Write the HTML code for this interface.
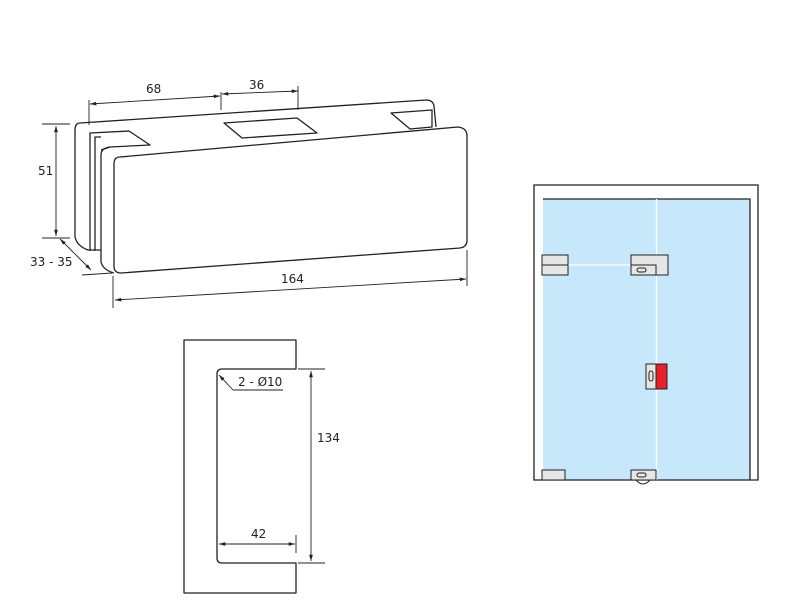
<!DOCTYPE html>
<html><head><style>body{margin:0;background:#fff}svg{display:block}text{font-family:"DejaVu Sans","Liberation Sans",sans-serif;font-size:12px;fill:#222}</style></head><body>
<svg width="806" height="614" viewBox="0 0 806 614" xmlns="http://www.w3.org/2000/svg">
<defs><marker id="a" viewBox="0 0 10 10" refX="10" refY="5" markerWidth="7" markerHeight="7" orient="auto-start-reverse"><path d="M0,2 L10,5 L0,8z" fill="#222"/></marker></defs>
<g fill="none" stroke="#222" stroke-width="1.3" stroke-linejoin="round">
<!-- back plate -->
<path d="M80,123 L426,100 Q433,100 434,106 L436,127"/>
<path d="M80,123 Q75,123 75,130 L75,237 Q77,246 88,250 L101,250"/>
<!-- channel -->
<path d="M90,251 L90,133 L129,131 L150,145 L110,147 L101,150"/>
<path d="M95,251 L95,137 L101,137"/>
<path d="M391,113 L432,110 L432,127 L410,129 Z"/>
<path d="M224,123 L297,118 L317,133 L242,138 Z"/>
<!-- middle plate -->
<path d="M101,262 L101,155 Q101,148 110,147"/>
<path d="M101,262 Q103,270 114,273"/>
<!-- front plate -->
<path d="M120,157 L458,127 Q467,128 467,136 L467,240 Q467,247 460,248 L121,273 Q114,273 114,266 L114,164 Q114,157 120,157 Z"/>
<!-- dimensions -->
<g stroke-width="0.9">
<path d="M89,100 L89,125 M221,92 L221,110 M298,86 L298,110"/>
<line x1="90" y1="104" x2="220" y2="96" marker-start="url(#a)" marker-end="url(#a)"/>
<line x1="222" y1="94" x2="298" y2="91" marker-start="url(#a)" marker-end="url(#a)"/>
<path d="M42,124 L70,124 M42,238 L70,238"/>
<line x1="56" y1="126" x2="56" y2="236" marker-start="url(#a)" marker-end="url(#a)"/>
<line x1="60" y1="239" x2="91" y2="270" marker-start="url(#a)" marker-end="url(#a)"/>
<path d="M82,275 L112,273"/>
<path d="M113,276 L113,308 M467,250 L467,286"/>
<line x1="115" y1="300" x2="466" y2="279" marker-start="url(#a)" marker-end="url(#a)"/>
</g>
<!-- handle -->
<path d="M296,369 L296,340 L184,340 L184,593 L296,593 L296,563 L222,563 Q217,563 217,558 L217,374 Q217,369 222,369 Z"/>
<g stroke-width="0.9">
<path d="M298,369 L325,369 M298,563 L325,563 M296,535 L296,553"/>
<line x1="311" y1="371" x2="311" y2="561" marker-start="url(#a)" marker-end="url(#a)"/>
<line x1="219" y1="544" x2="295" y2="544" marker-start="url(#a)" marker-end="url(#a)"/>
<path d="M233,390 L283,390"/>
<line x1="233" y1="390" x2="219" y2="375" marker-end="url(#a)"/>
</g>
</g>
<text x="146" y="93">68</text><text x="249" y="89">36</text>
<text x="38" y="175">51</text><text x="30" y="266">33 - 35</text>
<text x="281" y="283">164</text>
<text x="238" y="386">2 - Ø10</text>
<text x="317" y="442">134</text><text x="251" y="538">42</text>
<!-- door -->
<rect x="543" y="199" width="207" height="281" fill="#c6e8fa"/>
<g fill="none" stroke="#222" stroke-width="1.3">
<path d="M534,480 L534,185 L758,185 L758,480 Z"/>
<path d="M543,199 L750,199 L750,480"/>
</g>
<line x1="656.5" y1="199" x2="656.5" y2="480" stroke="#fff" stroke-width="1.3"/>
<line x1="568" y1="265" x2="656" y2="265" stroke="#fff" stroke-width="1.3"/>
<g stroke="#222" stroke-width="1" fill="#e6e6e6">
<rect x="542" y="255" width="26" height="10"/><rect x="542" y="265" width="26" height="10"/>
<rect x="631" y="255" width="37" height="20"/><rect x="631" y="265" width="25" height="10"/>
<rect x="646" y="364" width="10" height="25"/><rect x="656" y="364" width="11" height="25" fill="#e8202a"/>
<rect x="542" y="470" width="23" height="10"/><rect x="631" y="470" width="25" height="10"/>
<path d="M636,480 Q643,488 650,480" fill="none"/>
</g>
<g fill="none" stroke="#222" stroke-width="1"><rect x="637" y="268" width="9" height="4" rx="2"/><rect x="637" y="473" width="9" height="4" rx="2"/><rect x="649" y="371" width="4" height="10" rx="2"/></g>
</svg>
</body></html>
